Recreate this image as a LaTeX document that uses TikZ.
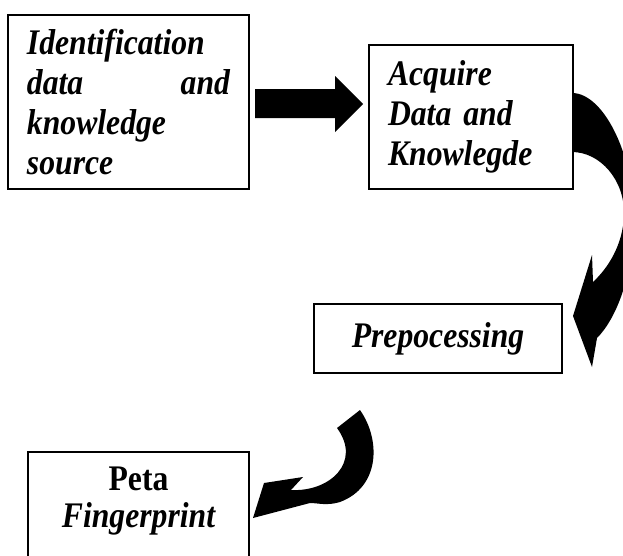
\documentclass[tikz,border=0pt]{standalone}
\usepackage{fontspec}
\setmainfont{Liberation Serif}[FakeStretch=0.88]
\usetikzlibrary{positioning}

\begin{document}
\begin{tikzpicture}[
			x=1pt, y=-1pt,
			font=\fontsize{36}{40}\selectfont\bfseries\itshape,
			kotak/.style={draw, line width=2pt, anchor=north west, inner xsep=19pt, inner ysep=0pt},
			panah/.style={fill=black}
		]
		\clip (0,0) rectangle (623,555);

		\node[kotak, text width=203pt, minimum height=174pt, align=left] (ident) at (7,14)
			{Identification\\ data\hfill and\\ knowledge\\ source};
		\node[kotak, text width=166pt, minimum height=144pt, align=left] (acq) at (368,44)
			{Acquire\\ Data and\\ Knowlegde};
		\node[kotak, text width=210pt, minimum height=69pt, align=center] (prep) at (313,303)
			{Prepocessing};
		\node[kotak, text width=183pt, minimum height=128pt, align=center,
			font=\fontsize{36}{37}\selectfont\bfseries\itshape] (peta) at (27,451)
			{{\upshape Peta}\\ Fingerprint\\ \mbox{}};

		\fill[panah] (255,89) -- (335,89) -- (335,76) -- (363,104) -- (335,132) -- (335,118) -- (255,118) -- cycle;

		\fill[panah] (572,93) .. controls (605,93) and (636,160) .. (634,225)
			.. controls (632,280) and (615,320) .. (597,338)
			-- (592,367) -- (573,316) -- (592,255) -- (593,282)
			.. controls (608,268) and (623,245) .. (624,215)
			.. controls (625,180) and (600,152) .. (572,152) -- cycle;

		\fill[panah] (337,428) -- (360,410)
			.. controls (381,440) and (380,487) .. (340,502)
			.. controls (327,506) and (318,503) .. (310,503)
			-- (253,518) -- (264,483) -- (303,477) -- (291,490)
			.. controls (330,492) and (362,462) .. (337,428) -- cycle;
	\end{tikzpicture}
\end{document}
